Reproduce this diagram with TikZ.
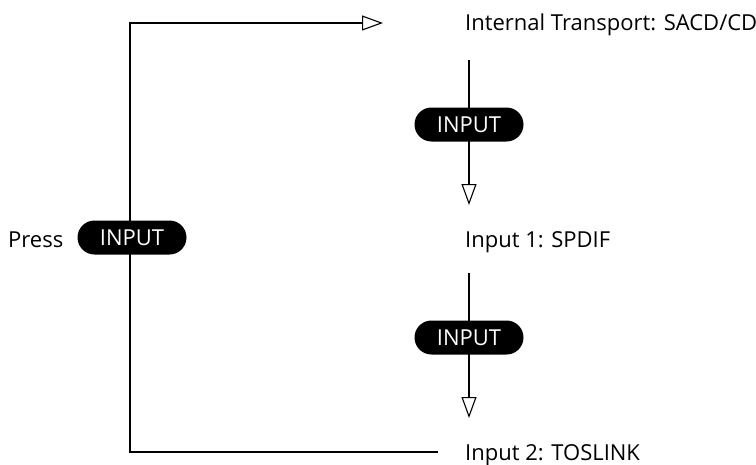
\documentclass[tikz,border=0pt]{standalone}
\usepackage{fontspec}
\setmainfont{Open Sans}
\usetikzlibrary{arrows.meta}

\begin{document}
\begin{tikzpicture}[x=1pt,y=-1pt,
  every node/.style={font=\fontsize{22}{26}\selectfont},
  badge/.style={fill=black,text=white,rounded corners=17pt,minimum width=109pt,minimum height=34pt,inner sep=0pt},
  srcname/.style={anchor=base west,inner sep=0pt},
  flow/.style={line width=1.1pt,-{Triangle[open,length=21pt,width=15pt,line width=1.1pt]}}]
\useasboundingbox (0,0) rectangle (756,464);
% sources
\node[srcname] (transport) at (465,30) {Internal Transport: SACD/CD};
\node[srcname] (spdif) at (465,247) {Input 1: SPDIF};
\node[srcname] (toslink) at (465,460) {Input 2: TOSLINK};
\node[srcname] (press) at (8,247) {Press};
% loop back to the top
\coordinate (botend) at (438,452);
\coordinate (botcorner) at (130,452);
\coordinate (topcorner) at (130,23);
\coordinate (topend) at (383,23);
\draw[flow] (botend) -- (botcorner) -- (topcorner) -- (topend);
% steps down
\coordinate (atop) at (469,60);
\coordinate (aend) at (469,205);
\coordinate (btop) at (469,273);
\coordinate (bend) at (469,418);
\draw[flow] (atop) -- (aend);
\draw[flow] (btop) -- (bend);
% buttons
\node[badge] (mainbtn) at (132,237.5) {INPUT};
\node[badge] (btna) at (469,124.5) {INPUT};
\node[badge] (btnb) at (469,337.5) {INPUT};
\end{tikzpicture}
\end{document}
